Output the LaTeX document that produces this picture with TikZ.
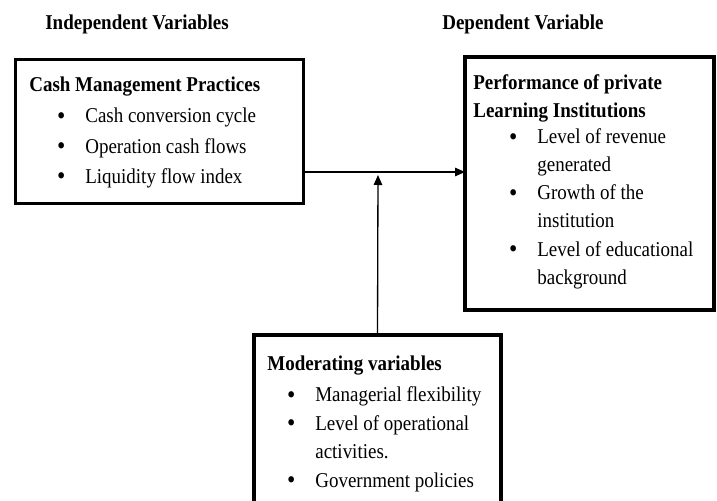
\documentclass[tikz,border=0pt]{standalone}
\usepackage{fontspec}
\setmainfont{Liberation Serif}[FakeStretch=0.9]
\usetikzlibrary{arrows.meta}
\usetikzlibrary{calc}

\newcommand{\bul}{\llap{\raisebox{-0.9pt}{\fontsize{15}{15}\selectfont\textbullet}\hspace{0.40cm}}}

\begin{document}
\begin{tikzpicture}[
	varbox/.style={draw, line width=2pt, rectangle, anchor=north west, inner sep=0pt, outer sep=0pt},
	txt/.style={anchor=base west, inner sep=0pt, font=\fontsize{12}{14}\selectfont},
	head/.style={txt, font=\fontsize{12}{14}\selectfont\bfseries},
	link/.style={-{Triangle[length=0.2cm,width=0.17cm]}, line width=0.75pt}
]
\useasboundingbox (0,0) rectangle (14.34,-10.02);

% column titles
\node[head] (indep) at (0.90,-0.60) {Independent Variables};
\node[head] (dep) at (8.84,-0.60) {Dependent Variable};

% boxes
\node[varbox, minimum width=5.76cm, minimum height=2.88cm] (cmp) at (0.31,-1.19) {};
\node[varbox, minimum width=4.98cm, minimum height=5.06cm] (perf) at (9.30,-1.14) {};
\node[varbox, minimum width=4.94cm, minimum height=3.5cm] (mod) at (5.08,-6.70) {};

% independent
\node[head] (cmp-h) at (0.58,-1.84) {Cash Management Practices};
\foreach \t [count=\i] in {Cash conversion cycle, Operation cash flows, Liquidity flow index}
	\node[txt] (cmp-\i) at (1.70,-1.86-0.60*\i) {\bul\t};

% dependent
\node[head] (perf-h1) at (9.46,-1.80) {Performance of private};
\node[head] (perf-h2) at (9.46,-2.36) {Learning Institutions};
\foreach \t [count=\i] in {\bul Level of revenue, generated, \bul Growth of the, institution, \bul Level of educational, background}
	\node[txt] (perf-\i) at (10.74,-2.32-0.56*\i) {\t};

% moderating
\node[head] (mod-h) at (5.34,-7.40) {Moderating variables};
\foreach \t [count=\i] in {\bul Managerial flexibility, \bul Level of operational, activities., \bul Government policies}
	\node[txt] (mod-\i) at (6.30,-7.46-0.57*\i) {\t};

% links
\coordinate (junction) at (7.56,-3.44);
\coordinate (modtip) at (7.56,-3.50);
\draw[link] (junction -| cmp.east) -- (junction -| perf.west);
\draw[link] (mod.north) -- (modtip);
\end{tikzpicture}
\end{document}
